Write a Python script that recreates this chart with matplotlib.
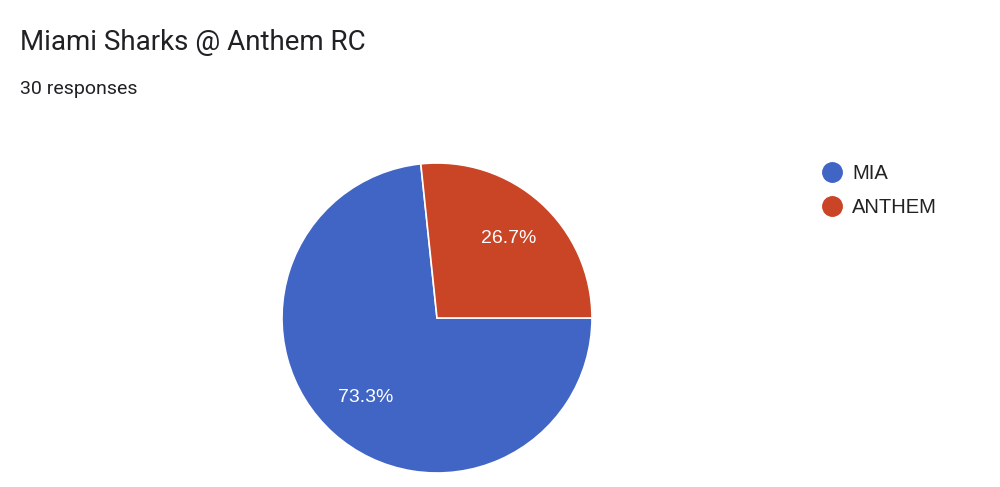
import matplotlib
matplotlib.use('Agg')
import matplotlib.pyplot as plt
from matplotlib.lines import Line2D

# data
labels = ['MIA', 'ANTHEM']
counts = [22, 8]
colors = ['#4065C5', '#CA4426']
title = 'Miami Sharks @ Anthem RC'
subtitle = '{} responses'.format(sum(counts))

fig = plt.figure(figsize=(10, 4.87), dpi=100)
fig.patch.set_facecolor('white')

# pie axes: centre (437, 318) px, radius 155 px
W, H = 1000, 487
cx, cy, r = 437, 318, 155
ax = fig.add_axes([(cx - r) / W, (H - cy - r) / H, 2 * r / W, 2 * r / H])
wedges, texts, autotexts = ax.pie(
    counts, colors=colors, startangle=96, counterclock=True,
    autopct='%1.1f%%', pctdistance=0.69,
    wedgeprops=dict(edgecolor='white', linewidth=1.2),
    textprops=dict(color='white', fontsize=14, family='Liberation Sans'))
ax.set_xlim(-1, 1)
ax.set_ylim(-1, 1)
ax.set_aspect('equal')

# titles
fig.text(20 / W, 1 - 43 / H, title, fontsize=20, family='Roboto',
         color='#202124', va='center', ha='left')
fig.text(20 / W, 1 - 89 / H, subtitle, fontsize=14, family='Roboto',
         color='#202124', va='center', ha='left')

# legend
handles = [Line2D([0], [0], marker='o', linestyle='none', markersize=14,
                  markerfacecolor=c, markeredgecolor=c) for c in colors]
leg = fig.legend(handles, labels, loc='upper left',
                 bbox_to_anchor=(804 / W, 1 - 146 / H), frameon=False,
                 handlelength=1.0, handletextpad=0.5, labelspacing=0.75,
                 prop=dict(family='Liberation Sans', size=14.5))
for t in leg.get_texts():
    t.set_color('#222222')

fig.savefig('out.png', dpi=100, facecolor='white')
